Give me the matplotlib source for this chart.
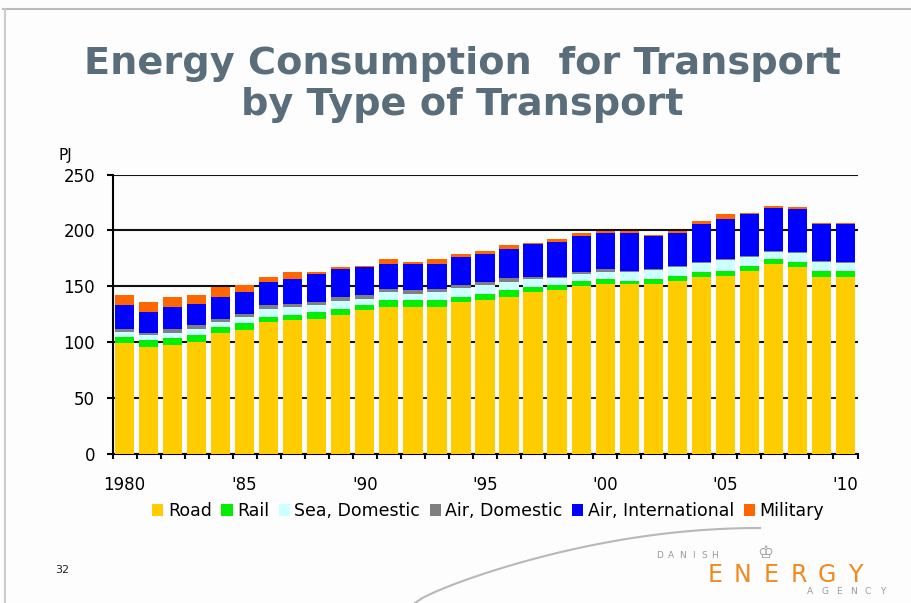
import matplotlib.pyplot as plt
import numpy as np
from matplotlib.lines import Line2D
from matplotlib.patches import Patch

years = list(range(1980, 2011))
road = [99.5, 96, 97.5, 100.5, 108, 111, 118, 120, 121, 124, 128.5, 131.5, 131.5, 131.5, 136, 137.5,
        140.5, 145, 146.5, 150.5, 152, 152, 152, 155, 158, 159.5, 164, 170, 167, 158, 158]
rail = [5.5, 6, 6, 6, 6, 6, 4.5, 4, 6, 6, 4.5, 6, 6, 6, 4.5, 6,
        6, 4.5, 4.5, 4.5, 4.5, 3, 4.5, 4.5, 4.5, 4.5, 4.5, 4.5, 4.5, 6, 6]
sea_dom = [4, 4.5, 4.5, 5.5, 4, 5.5, 7.5, 7.5, 6, 6.5, 6, 7.5, 6, 7.5, 8, 7.5,
           7.5, 7, 6, 6, 6.5, 8, 8, 8, 8, 9.5, 8, 6.5, 8, 8, 6.5]
air_dom = [3, 1.5, 4, 3, 3, 3, 3, 3, 3, 4, 3, 3, 3, 3, 2.5, 3,
           3, 1.5, 1.5, 1.5, 2.5, 1, 1, 1, 1, 1, 1, 1, 1, 1, 1]
air_int = [21, 19, 19.5, 19.5, 19, 19.5, 20.5, 22, 25, 25, 25, 22, 23.5, 22, 25, 25,
           26.5, 29.5, 31, 32.5, 32.5, 34, 29.5, 29.5, 34, 35.5, 37, 38, 38.5, 32.5, 34]
military = [9, 9, 8.5, 7.5, 9, 6, 4.5, 6, 1.5, 1.5, 1.5, 4.5, 2, 4.5, 3, 3,
            3, 1.5, 3, 3, 1.5, 1.5, 0.5, 1.5, 3, 4.5, 1.5, 1.5, 1.5, 1.5, 1.5]

series = ["Road", "Rail", "Sea, Domestic", "Air, Domestic", "Air, International", "Military"]
colors = ["#FFCC00", "#00EE00", "#CCFFFF", "#808080", "#0000FF", "#FF6600"]
xlabels = ["1980", "'85", "'90", "'95", "'00", "'05", "'10"]

fig = plt.figure(figsize=(9.11, 6.03), dpi=100)
fig.patch.set_facecolor("#fdfdfd")

# slide frame and swoosh
fig.add_artist(Line2D([3 / 911, 1], [1 - 9 / 603] * 2, color="#bbbbbb", lw=1.5))
fig.add_artist(Line2D([5 / 911] * 2, [0, 1 - 9 / 603], color="#cccccc", lw=1.5))
t = np.linspace(0, 1, 50)
sx = 415 + 345 * t
sy = 603 - 75 * np.sin(t * np.pi / 2) ** 0.8
fig.add_artist(Line2D(sx / 911, 1 - sy / 603, color="#b8b8b8", lw=1.5))

# title
title_col = "#5a6d7b"
fig.text(462 / 911, 1 - 74 / 603, "Energy Consumption  for Transport", ha="center", va="baseline",
         fontsize=27.5, fontweight="bold", color=title_col)
fig.text(462 / 911, 1 - 115 / 603, "by Type of Transport", ha="center", va="baseline",
         fontsize=27.5, fontweight="bold", color=title_col)

ax = fig.add_axes([112.5 / 911, 1 - 454 / 603, (857.5 - 112.5) / 911, (454 - 174.5) / 603])
ax.set_facecolor("none")

x = np.arange(len(years))
bottom = np.zeros(len(years))
for vals, col in zip([road, rail, sea_dom, air_dom, air_int, military], colors):
    ax.bar(x, vals, width=0.8, bottom=bottom, color=col, zorder=3)
    bottom += np.array(vals)

ax.set_xlim(-0.5, len(years) - 0.5)
ax.set_ylim(0, 250)
ax.set_yticks([0, 50, 100, 150, 200, 250])
ax.yaxis.grid(True, color="#111111", lw=1.5, zorder=0)
ax.set_axisbelow(True)
ax.tick_params(axis="y", length=4.5, width=1.5, pad=8, labelsize=12, colors="black")

ax.set_xticks(np.arange(-0.5, len(years)), labels=[])
ax.tick_params(axis="x", which="major", length=3.5, width=1.5, direction="out")
ax.set_xticks([0, 5, 10, 15, 20, 25, 30], labels=xlabels, minor=True)
ax.tick_params(axis="x", which="minor", length=0, pad=16, labelsize=12)

for s in ["top", "right"]:
    ax.spines[s].set_visible(False)
for s in ["left", "bottom"]:
    ax.spines[s].set_linewidth(1.5)
    ax.spines[s].set_color("black")

fig.text(58 / 911, 1 - 155 / 603, "PJ", fontsize=11, va="center", ha="left")

handles = [Patch(facecolor=c, edgecolor="none") for c in colors]
fig.legend(handles, series, loc="center", bbox_to_anchor=(488 / 911, 1 - 511 / 603), ncol=6,
           frameon=False, fontsize=12.5, handlelength=0.65, handleheight=0.65,
           handletextpad=0.25, columnspacing=0.55, borderpad=0)

# page number and logo
fig.text(62 / 911, 1 - 570 / 603, "32", fontsize=8, va="center", ha="center", color="#222222")
fig.text(765 / 911, 1 - 553 / 603, "\u2654", fontsize=13, va="center", ha="center", color="#9a9a9a")
for i, ch in enumerate("DANISH"):
    fig.text((660 + 11 * i) / 911, 1 - 555 / 603, ch, fontsize=6.5, va="center", ha="center", color="#999999")
for i, ch in enumerate("ENERGY"):
    fig.text((715 + 28 * i) / 911, 1 - 575 / 603, ch, fontsize=17, va="center", ha="center", color="#F08A1E")
for i, ch in enumerate("AGENCY"):
    fig.text((810 + 14.5 * i) / 911, 1 - 591 / 603, ch, fontsize=6.5, va="center", ha="center", color="#999999")

fig.savefig("out.png", dpi=100, facecolor=fig.get_facecolor())
